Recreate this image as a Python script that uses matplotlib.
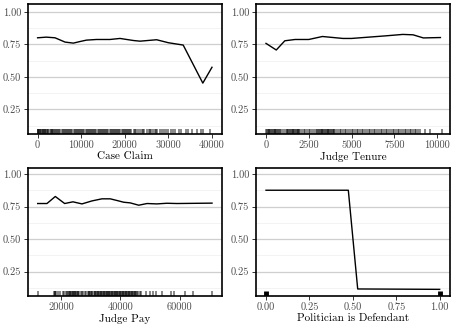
import matplotlib
matplotlib.use("Agg")
import matplotlib.pyplot as plt
import numpy as np
from matplotlib.ticker import FixedLocator

plt.rcParams['font.family'] = ['cmr10', 'DejaVu Serif']
plt.rcParams['axes.formatter.use_mathtext'] = True

# ---------------- data ----------------
claim_x = [0, 2000, 4000, 6300, 8200, 9700, 11200, 13500, 16600, 18900, 22000,
           23500, 27300, 30000, 33400, 37900, 40000]
claim_y = [0.801, 0.806, 0.801, 0.768, 0.760, 0.772, 0.783, 0.788, 0.788, 0.796,
           0.780, 0.775, 0.786, 0.763, 0.745, 0.452, 0.574]
claim_rug = [0, 100, 200, 350, 500, 650, 800, 1000, 1150, 1300, 1500, 1650, 1800,
             2000, 2150, 2300, 2500, 2750, 3000, 3200, 3350, 3500, 3750, 4000, 4200,
             4500, 4750, 5000, 5250, 5500, 5750, 6000, 6300, 6550, 6800, 7000, 7250,
             7500, 7750, 8000, 8300, 8550, 8800, 9000, 9250, 9500, 9750, 10000,
             10250, 10500, 10750, 11000, 11250, 11500, 11750, 12000, 12250, 12500,
             12750, 13000, 13250, 13500, 13750, 14000, 14250, 14500, 14750, 15000,
             15250, 15500, 15750, 16000, 16250, 16500, 16750, 17000, 17250, 17500,
             17750, 18000, 18250, 18500, 18750, 19000, 19250, 19500, 19750, 20000,
             20250, 20500, 20750, 21000, 21250, 21500, 22000, 22250, 22500, 23000,
             23500, 24000, 24250, 24500, 25000, 25500, 25750, 26000, 26500, 27000,
             27250, 27500, 28000, 28500, 29000, 29500, 30000, 30500, 31000, 31500,
             32500, 33000, 34000, 34500, 35500, 36500, 37500, 38000, 39500]

tenure_x = [0, 600, 1100, 1700, 2500, 3300, 4500, 5000, 6000, 7000, 8000, 8600,
            9200, 10200]
tenure_y = [0.758, 0.707, 0.778, 0.788, 0.788, 0.811, 0.796, 0.796, 0.806, 0.816,
            0.827, 0.824, 0.800, 0.803]
tenure_rug = [0, 50, 100, 150, 200, 250, 300, 350, 400, 450, 500, 550, 600, 650, 700,
              750, 800, 900, 1000, 1100, 1200, 1250, 1300, 1350, 1400, 1450, 1500,
              1550, 1600, 1650, 1700, 1750, 1800, 1850, 1900, 1950, 2000, 2100, 2200,
              2300, 2400, 2500, 2600, 2700, 2800, 2900, 3000, 3050, 3100, 3150, 3200,
              3250, 3300, 3350, 3400, 3450, 3500, 3550, 3600, 3650, 3700, 3750, 3800,
              3850, 3900, 3950, 4000, 4100, 4200, 4300, 4400, 4500, 4600, 4700, 4800,
              4900, 5000, 5100, 5200, 5300, 5400, 5500, 5600, 5700, 5800, 5900, 6000,
              6100, 6200, 6300, 6400, 6500, 6600, 6700, 6800, 6900, 7000, 7100, 7200,
              7300, 7400, 7500, 7600, 7700, 7800, 7900, 8000, 8100, 8200, 8300, 8400,
              8500, 8600, 8700, 8800, 8900, 9000, 9300, 9600, 10300]

pay_x = [12000, 15150, 17970, 21130, 23940, 26990, 30370, 33750, 36560, 39400,
         41070, 43300, 46200, 49000, 52300, 55700, 59100, 71000]
pay_y = [0.773, 0.773, 0.827, 0.773, 0.786, 0.770, 0.793, 0.809, 0.809, 0.793,
         0.783, 0.778, 0.760, 0.773, 0.770, 0.775, 0.773, 0.776]
pay_rug = [12000, 17500, 17800, 18000, 18300, 19000, 19500, 20500, 21000, 21500,
           22000, 22300, 22500, 22800, 23000, 23300, 23500, 23800, 24000, 24300,
           24500, 24800, 25000, 25300, 25500, 25800, 26000, 26500, 27000, 27500,
           28000, 28500, 29000, 29300, 29500, 29800, 30000, 30300, 30500, 31000,
           31300, 31500, 31800, 32000, 32300, 32500, 32800, 33000, 33300, 33500,
           33800, 34000, 34300, 34500, 34800, 35000, 35300, 35500, 35800, 36000,
           36300, 36500, 36800, 37000, 37300, 37500, 37800, 38000, 38300, 38500,
           38800, 39000, 39300, 39500, 39800, 40000, 40300, 40500, 40800, 41000,
           41300, 41500, 41800, 42000, 42300, 42500, 42800, 43000, 43300, 43500,
           43800, 44000, 44300, 44500, 44800, 45000, 45300, 45500, 46000, 46500,
           47000, 48500, 50000, 51000, 52000, 54000, 57000, 58000, 62000, 64500,
           71000]

pol_x = [0.0, 0.474, 0.528, 1.0]
pol_y = [0.875, 0.875, 0.117, 0.114]
pol_rug = [0.0, 1.0]

panels = [
    dict(x=claim_x, y=claim_y, rug=claim_rug, label="Case Claim",
         xlim=(-2200, 42300), xticks=[0, 10000, 20000, 30000, 40000],
         fmt="{:.0f}", ylim=(0.060, 1.059), rug_lw=1.2, rug_alpha=0.55,
         pos=(28, 4.3, 222, 134)),
    dict(x=tenure_x, y=tenure_y, rug=tenure_rug, label="Judge Tenure",
         xlim=(-585, 10760), xticks=[0, 2500, 5000, 7500, 10000],
         fmt="{:.0f}", ylim=(0.060, 1.059), rug_lw=1.2, rug_alpha=0.55,
         pos=(256, 4.3, 450, 134)),
    dict(x=pay_x, y=pay_y, rug=pay_rug, label="Judge Pay",
         xlim=(8730, 74370), xticks=[20000, 40000, 60000],
         fmt="{:.0f}", ylim=(0.063, 1.048), rug_lw=1.2, rug_alpha=0.55,
         pos=(28, 167.7, 222, 296)),
    dict(x=pol_x, y=pol_y, rug=pol_rug, label="Politician is Defendant",
         xlim=(-0.0576, 1.0595), xticks=[0.0, 0.25, 0.5, 0.75, 1.0],
         fmt="{:.2f}", ylim=(0.063, 1.048), rug_lw=3.5, rug_alpha=1.0,
         pos=(256, 167.7, 450, 296)),
]

W, H = 455, 325
fig = plt.figure(figsize=(W / 100, H / 100), dpi=100)

for p in panels:
    l, t, r, b = p["pos"]
    ax = fig.add_axes([l / W, 1 - b / H, (r - l) / W, (b - t) / H])
    ax.set_xlim(*p["xlim"])
    ax.set_ylim(*p["ylim"])
    ax.yaxis.set_major_locator(FixedLocator([0.25, 0.5, 0.75, 1.0]))
    ax.yaxis.set_minor_locator(FixedLocator([0.125, 0.375, 0.625, 0.875]))
    ax.set_yticklabels(["0.25", "0.50", "0.75", "1.00"])
    ax.xaxis.set_major_locator(FixedLocator(p["xticks"]))
    ax.set_xticklabels([p["fmt"].format(v) for v in p["xticks"]])
    ax.grid(axis="y", which="major", color="#cfcfcf", lw=0.9, zorder=0)
    ax.grid(axis="y", which="minor", color="#eeeeee", lw=0.5, zorder=0)
    ax.tick_params(axis="y", which="minor", length=0)
    ax.tick_params(axis="both", which="major", length=3, width=0.7,
                   color="#333333", labelsize=7.5, labelcolor="#4d4d4d", pad=2)
    for s in ax.spines.values():
        s.set_color("black")
        s.set_linewidth(1.2)
    ax.plot(p["x"], p["y"], color="black", lw=1.0, zorder=3)
    ax.vlines(p["rug"], 0, 0.036, transform=ax.get_xaxis_transform(),
              color="black", lw=p["rug_lw"], alpha=p["rug_alpha"], zorder=2)
    ax.set_xlabel(p["label"], fontsize=8, labelpad=1)

fig.savefig("out.png", dpi=100)
